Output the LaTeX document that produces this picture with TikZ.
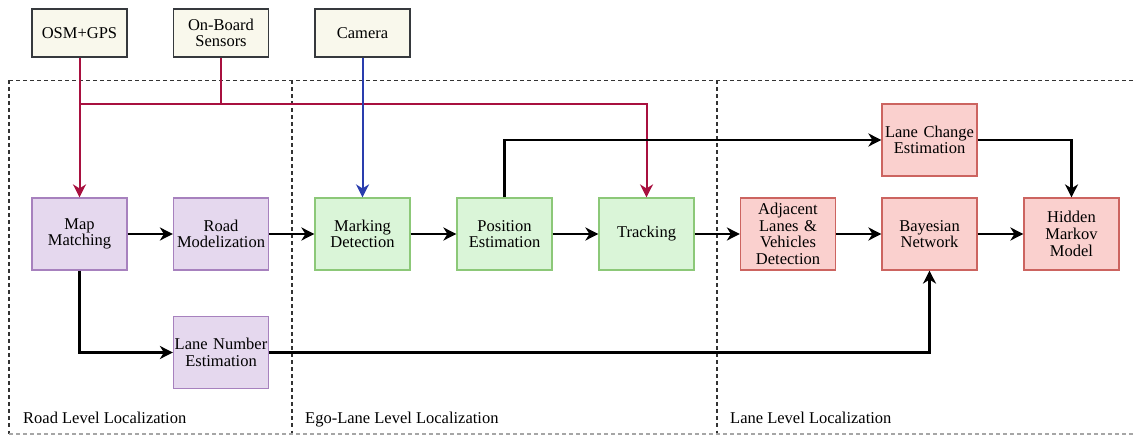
\documentclass[tikz,border=0pt]{standalone}
\usepackage{fontspec}
\setmainfont{Liberation Serif}
\usetikzlibrary{arrows.meta}

\definecolor{srcfill}{HTML}{F9F8EC}
\definecolor{srcdraw}{HTML}{36393D}
\definecolor{roadfill}{HTML}{E5D8EE}
\definecolor{roaddraw}{HTML}{A781BE}
\definecolor{egofill}{HTML}{DAF5D8}
\definecolor{egodraw}{HTML}{8CC878}
\definecolor{lanefill}{HTML}{FAD0CE}
\definecolor{lanedraw}{HTML}{CC6460}
\definecolor{busred}{HTML}{A8103F}
\definecolor{camblue}{HTML}{2A3DAE}

\tikzset{
  box/.style={rectangle, inner sep=0pt, minimum width=95pt, minimum height=72pt,
    text width=95pt, align=center, line width=1.2pt,
    font=\fontsize{16.5}{16.7}\selectfont},
  srcbox/.style={box, minimum height=48pt, fill=srcfill, draw=srcdraw},
  roadbox/.style={box, fill=roadfill, draw=roaddraw},
  egobox/.style={box, fill=egofill, draw=egodraw},
  lanebox/.style={box, fill=lanefill, draw=lanedraw},
  flow/.style={line width=2.4pt, -{Stealth[length=13pt,width=13pt,inset=4pt]}},
  link/.style={line width=2.4pt},
  redflow/.style={line width=2pt, draw=busred, -{Stealth[length=13pt,width=13pt,inset=4pt,fill=busred]}},
  redlink/.style={line width=2pt, draw=busred},
  blueflow/.style={line width=2pt, draw=camblue, -{Stealth[length=13pt,width=13pt,inset=4pt,fill=camblue]}},
  frame/.style={dashed, dash pattern=on 4pt off 3pt, line width=1.1pt, draw=black!80},
  framelight/.style={dashed, dash pattern=on 4pt off 3pt, line width=1.1pt, draw=black!35},
  region/.style={anchor=base west, inner sep=0pt, font=\fontsize{16.5}{16.7}\selectfont}
}

\begin{document}
\begin{tikzpicture}[x=1pt, y=-1pt]
\useasboundingbox (0,0) rectangle (1135,435);

% level frames
\draw[frame] (9,80.5) -- (1135,80.5);
\draw[frame] (9,80.5) -- (9,434);
\draw[frame] (292,80.5) -- (292,434);
\draw[frame] (717,80.5) -- (717,434);
\draw[framelight] (9,434) -- (1135,434);

\node[region] (lblroad) at (23,423) {Road Level Localization};
\node[region] (lblego) at (305,423) {Ego-Lane Level Localization};
\node[region] (lbllane) at (730,423) {Lane Level Localization};

% input sources
\node[srcbox] (osm) at (79.5,33) {OSM+GPS};
\node[srcbox] (obs) at (221,33) {On-Board\\Sensors};
\node[srcbox] (cam) at (362.5,33) {Camera};

% road level
\node[roadbox] (map) at (79.5,234) {Map\\Matching};
\node[roadbox] (rmod) at (221,234) {Road\\Modelization};
\node[roadbox] (lnum) at (221,352.5) {Lane Number\\Estimation};

% ego-lane level
\node[egobox] (mark) at (362.5,234) {Marking\\Detection};
\node[egobox] (pos) at (504.5,234) {Position\\Estimation};
\node[egobox] (trk) at (646.5,234) {Tracking};

% lane level
\node[lanebox] (adj) at (788,234) {Adjacent\\Lanes \&\\Vehicles\\Detection};
\node[lanebox] (bay) at (929.5,234) {Bayesian\\Network};
\node[lanebox] (hmm) at (1071.5,234) {Hidden\\Markov\\Model};
\node[lanebox] (lce) at (929.5,140) {Lane Change\\Estimation};

% sensor bus
\coordinate (bus) at (0,104);
\draw[redlink] (obs.south) -- (obs.south |- bus);
\draw[redflow] (osm.south) -- (map.north);
\draw[redflow] (osm.south |- bus) -| (trk.north);
\draw[blueflow] (cam.south) -- (mark.north);

% main chain
\draw[flow] (map) -- (rmod);
\draw[flow] (rmod) -- (mark);
\draw[flow] (mark) -- (pos);
\draw[flow] (pos) -- (trk);
\draw[flow] (trk) -- (adj);
\draw[flow] (adj) -- (bay);
\draw[flow] (bay) -- (hmm);

% side branches
\draw[flow] (pos.north) |- (lce.west);
\draw[flow] (lce.east) -| (hmm.north);
\draw[flow] (map.south) |- (lnum.west);
\draw[flow] (lnum.east) -| (bay.south);
\end{tikzpicture}
\end{document}
